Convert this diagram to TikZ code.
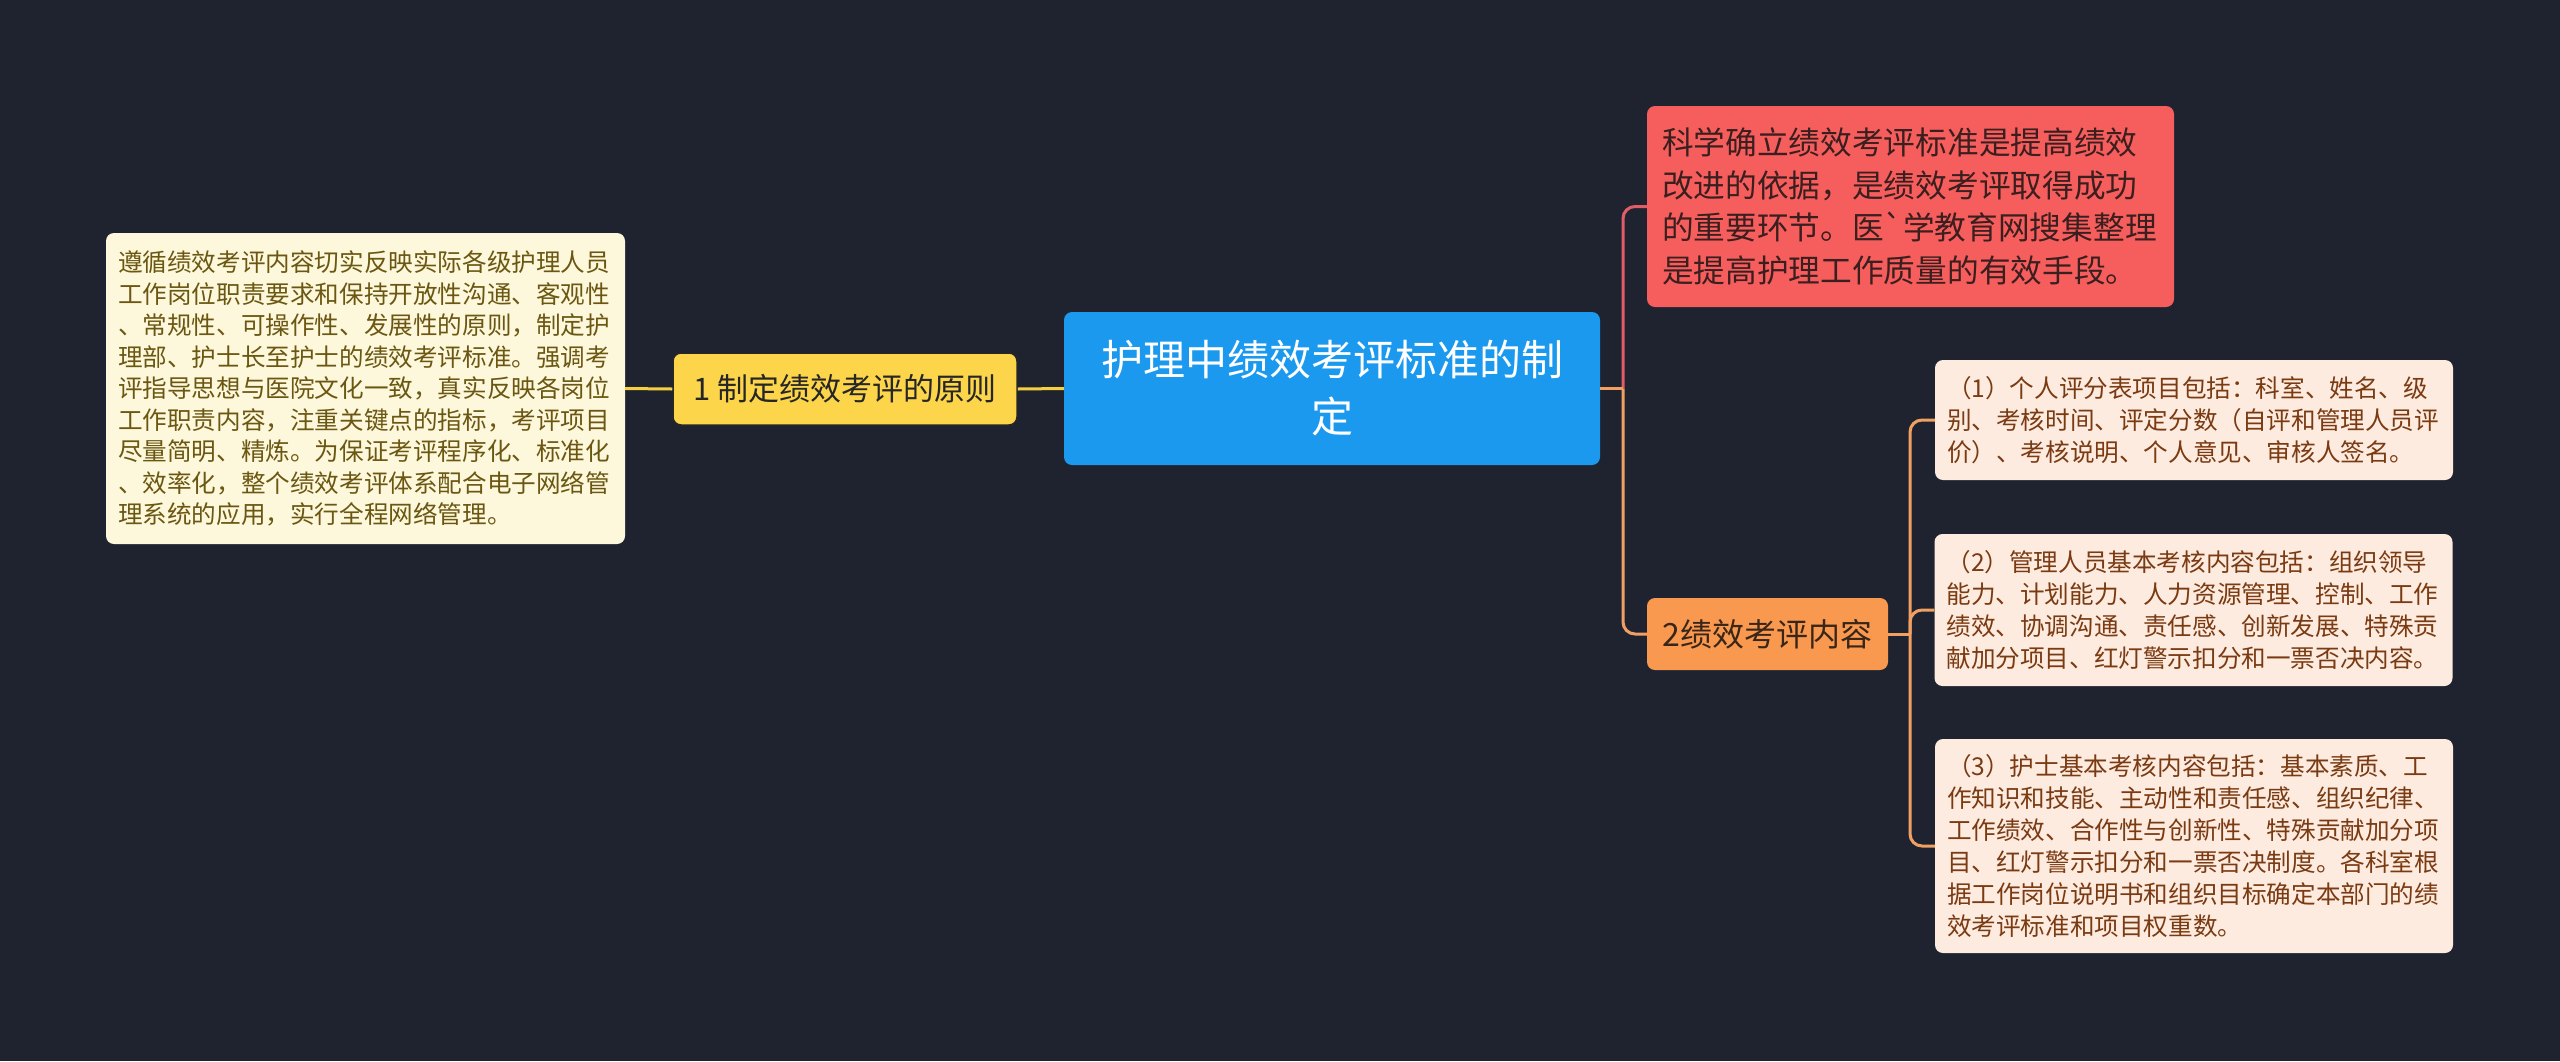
\documentclass[tikz,border=0pt]{standalone}
\usepackage{fontspec}
\newfontfamily\cjk[Ligatures=TeXOff]{Noto Sans CJK SC}
\definecolor{bgc}{RGB}{31,35,48}
\definecolor{bluec}{RGB}{26,153,238}
\definecolor{yelc}{RGB}{253,213,74}
\definecolor{yelline}{RGB}{245,207,69}
\definecolor{redc}{RGB}{246,94,94}
\definecolor{redt}{RGB}{59,30,30}
\definecolor{redline}{RGB}{224,92,103}
\definecolor{orac}{RGB}{248,153,79}
\definecolor{orat}{RGB}{58,38,24}
\definecolor{oraline}{RGB}{240,160,98}
\definecolor{creamc}{RGB}{253,248,220}
\definecolor{creamt}{RGB}{107,87,18}
\definecolor{leafc}{RGB}{253,235,223}
\definecolor{leaft}{RGB}{122,58,18}
\begin{document}
\begin{tikzpicture}[x=1pt,y=-1pt,
  box/.style={rectangle, rounded corners=8pt, inner xsep=12pt, inner ysep=0pt, align=left},
  leaf/.style={box, fill=leafc, text=leaft, text width=494pt, minimum height=#1,
    font=\cjk\fontsize{24.6}{32}\selectfont},
  yline/.style={line width=3pt, yelline},
  yborder/.style={line width=5pt, black!85},
  rline/.style={line width=3pt, redline},
  oline/.style={line width=3pt, oraline},
]
\fill[bgc] (0,0) rectangle (2560,1061);
\useasboundingbox (0,0) rectangle (2560,1061);
\lineskiplimit=-100pt

% nodes
\node[box, fill=bluec, text=white, align=center, minimum width=536pt, minimum height=153pt,
  font=\cjk\fontsize{42}{57}\selectfont] (center) at (1332,388.5)
  {护理中绩效考评标准的制\\定};

\node[box, fill=yelc, draw=black!85, line width=1.5pt, text=black!85, align=center,
  minimum width=344pt, minimum height=72pt, font=\cjk\fontsize{31}{36}\selectfont]
  (yel) at (845,389) {1 制定绩效考评的原则};

\node[box, fill=creamc, text=creamt, text width=495pt, minimum height=311pt,
  font=\cjk\fontsize{24.6}{31.5}\selectfont] (left) at (365.5,388.5)
  {遵循绩效考评内容切实反映实际各级护理人员\\
   工作岗位职责要求和保持开放性沟通、客观性\\
   、常规性、可操作性、发展性的原则，制定护\\
   理部、护士长至护士的绩效考评标准。强调考\\
   评指导思想与医院文化一致，真实反映各岗位\\
   工作职责内容，注重关键点的指标，考评项目\\
   尽量简明、精炼。为保证考评程序化、标准化\\
   、效率化，整个绩效考评体系配合电子网络管\\
   理系统的应用，实行全程网络管理。};

\node[box, fill=redc, text=redt, inner xsep=15pt, text width=497pt, minimum height=201pt,
  font=\cjk\fontsize{31.7}{42.7}\selectfont] (red) at (1910.5,206.5)
  {科学确立绩效考评标准是提高绩效\\
   改进的依据，是绩效考评取得成功\\
   的重要环节。医`学教育网搜集整理\\
   是提高护理工作质量的有效手段。};

\node[box, fill=orac, text=orat, align=center, minimum width=241pt, minimum height=72pt,
  font=\cjk\fontsize{32}{36}\selectfont] (ora) at (1767.5,634) {2绩效考评内容};

\node[leaf=120pt] (b1) at (2194,420)
  {（1）个人评分表项目包括：科室、姓名、级\\
   别、考核时间、评定分数（自评和管理人员评\\
   价）、考核说明、个人意见、审核人签名。};

\node[leaf=152pt] (b2) at (2193.5,610)
  {（2）管理人员基本考核内容包括：组织领导\\
   能力、计划能力、人力资源管理、控制、工作\\
   绩效、协调沟通、责任感、创新发展、特殊贡\\
   献加分项目、红灯警示扣分和一票否决内容。};

\node[leaf=214pt] (b3) at (2194,846)
  {（3）护士基本考核内容包括：基本素质、工\\
   作知识和技能、主动性和责任感、组织纪律、\\
   工作绩效、合作性与创新性、特殊贡献加分项\\
   目、红灯警示扣分和一票否决制度。各科室根\\
   据工作岗位说明书和组织目标确定本部门的绩\\
   效考评标准和项目权重数。};

% junction coordinates
\coordinate (j1) at (1623,388.5);
\coordinate (j2) at (1910,634);

% connectors
\draw[yborder] (left.east) -- (yel.west);
\draw[yline] (left.east) -- (yel.west);
\draw[yborder] (yel.east) -- (center.west);
\draw[yline] (yel.east) -- (center.west);

\draw[rline, rounded corners=12pt] (j1) |- (red.west);
\draw[oline, rounded corners=12pt] (j1) |- (ora.west);
\draw[oline] (center.east) -- (j1);

\draw[oline] (ora.east) -- (j2);
\draw[oline, rounded corners=12pt] (j2) |- (b1.west);
\draw[oline, rounded corners=12pt] (j2) |- (b2.west);
\draw[oline, rounded corners=12pt] (j2) |- (b3.west);
\end{tikzpicture}
\end{document}
